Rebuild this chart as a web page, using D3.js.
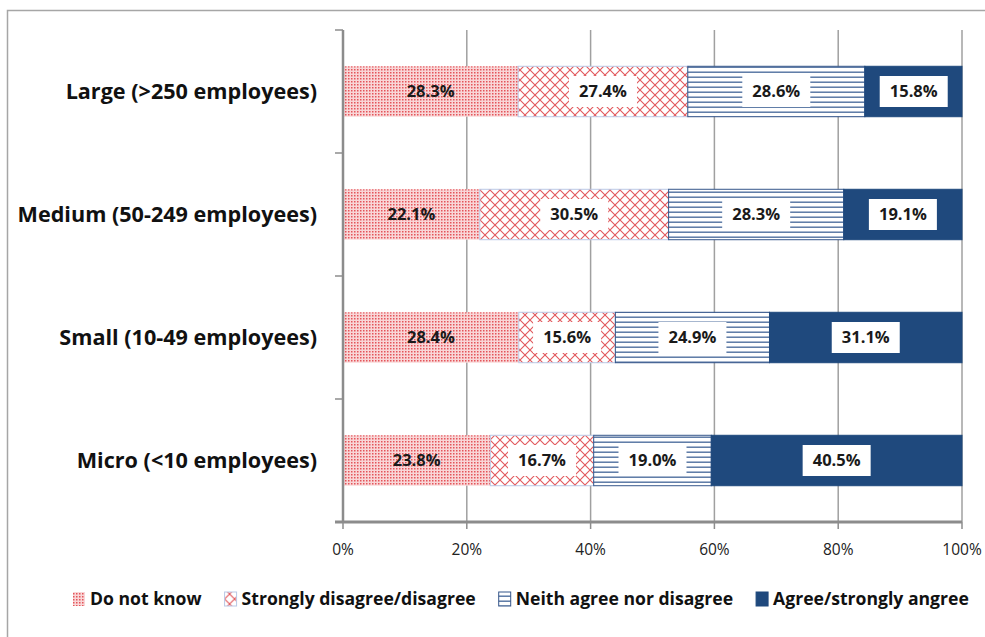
<!DOCTYPE html>
<html>
<head>
<meta charset="utf-8">
<script src="https://cdn.jsdelivr.net/npm/d3@7"></script>
<style>
  body { margin: 0; background: #fff; }
  svg { display: block; font-family: "Open Sans", "Noto Sans", sans-serif; }
</style>
</head>
<body>
<svg id="chart"></svg>
<script>
// categories top to bottom, as in the picture
var categories = ["Large (>250 employees)", "Medium (50-249 employees)", "Small (10-49 employees)", "Micro (<10 employees)"];
var seriesNames = ["Do not know", "Strongly disagree/disagree", "Neith agree nor disagree", "Agree/strongly angree"];
var doNotKnow = [28.3, 22.1, 28.4, 23.8];
var disagree = [27.4, 30.5, 15.6, 16.7];
var neither = [28.6, 28.3, 24.9, 19.0];
var agree = [15.8, 19.1, 31.1, 40.5];
var tickValues = [0, 20, 40, 60, 80, 100];

var width = 985, height = 637;
var svg = d3.select("#chart").attr("width", width).attr("height", height);

// patterns for the fills
var defs = svg.append("defs");
var dots = defs.append("pattern").attr("id", "p-dots")
    .attr("patternUnits", "userSpaceOnUse").attr("width", 3).attr("height", 3);
dots.append("rect").attr("width", 3).attr("height", 3).attr("fill", "#f9d6d7");
dots.append("rect").attr("width", 1.5).attr("height", 1.5).attr("fill", "#e4545a");

var cross = defs.append("pattern").attr("id", "p-cross")
    .attr("patternUnits", "userSpaceOnUse").attr("width", 10).attr("height", 10);
cross.append("rect").attr("width", 10).attr("height", 10).attr("fill", "#fff");
cross.append("path").attr("d", "M0,0L10,10M10,0L0,10")
    .attr("stroke", "#e2585c").attr("stroke-width", 1.1);

var hlines = defs.append("pattern").attr("id", "p-lines")
    .attr("patternUnits", "userSpaceOnUse").attr("width", 6).attr("height", 5);
hlines.append("rect").attr("width", 6).attr("height", 5).attr("fill", "#fff");
hlines.append("rect").attr("y", 1.5).attr("width", 6).attr("height", 1.4).attr("fill", "#50709f");

var fills = ["url(#p-dots)", "url(#p-cross)", "url(#p-lines)", "#1f497d"];
var strokes = ["none", "#b9c8e6", "#35568a", "#1f497d"];

var plot = { left: 343, right: 962, top: 30, bottom: 522 };

var x = d3.scaleLinear().domain([0, 100]).range([plot.left, plot.right]);
var y = d3.scaleBand().domain(categories).range([plot.top, plot.bottom]).paddingInner(0.59).paddingOuter(0.295);

// outer frame
svg.append("rect").attr("x", 7.5).attr("y", 10.5).attr("width", 1000).attr("height", 700)
    .attr("fill", "none").attr("stroke", "#a6a6a6").attr("stroke-width", 1.5);

// gridlines
svg.append("g").selectAll("line").data(tickValues.slice(1)).join("line")
    .attr("x1", d => x(d)).attr("x2", d => x(d))
    .attr("y1", plot.top).attr("y2", plot.bottom)
    .attr("stroke", "#a0a0a0").attr("stroke-width", 1.5);

// stack the series
var rows = categories.map((c, i) => ({
  cat: c,
  values: [doNotKnow[i], disagree[i], neither[i], agree[i]]
}));
var keys = [0, 1, 2, 3];
var stack = d3.stack().keys(keys).value((d, k) => d.values[k]);
var layers = stack(rows);

var bars = svg.append("g");
layers.forEach((layer, k) => {
  bars.append("g").selectAll("rect").data(layer).join("rect")
      .attr("x", d => x(d[0]))
      .attr("width", d => Math.min(x(d[1]), plot.right) - x(d[0]))
      .attr("y", d => y(d.data.cat))
      .attr("height", y.bandwidth())
      .attr("fill", fills[k])
      .attr("stroke", strokes[k]).attr("stroke-width", 1);
});

// data labels
var labels = svg.append("g").attr("font-weight", 700).attr("font-size", 16.5);
layers.forEach((layer, k) => {
  var g = labels.append("g").selectAll("g").data(layer).join("g")
      .attr("transform", d => "translate(" + x((d[0] + d[1]) / 2) + "," + (y(d.data.cat) + y.bandwidth() / 2) + ")");
  if (k > 0) {
    g.append("rect").attr("x", -34).attr("y", -15.5).attr("width", 68).attr("height", 31).attr("fill", "#fff");
  }
  g.append("text").attr("text-anchor", "middle").attr("dy", "0.36em")
      .attr("fill", "#1a1a1a")
      .text(d => d.data.values[k].toFixed(1) + "%");
});

// y axis
var yAxis = svg.append("g").attr("transform", "translate(" + plot.left + ",0)");
yAxis.append("line").attr("y1", plot.top).attr("y2", plot.bottom)
    .attr("stroke", "#8c8c8c").attr("stroke-width", 2.5);
var bandEdges = categories.map(c => y(c) - y.step() * y.paddingInner() / 2).concat([plot.bottom]);
yAxis.selectAll(".tk").data(bandEdges).join("line")
    .attr("x1", -8).attr("x2", 0).attr("y1", d => d).attr("y2", d => d)
    .attr("stroke", "#8c8c8c").attr("stroke-width", 1.5);
yAxis.selectAll("text").data(categories).join("text")
    .attr("x", -26).attr("y", d => y(d) + y.bandwidth() / 2)
    .attr("dy", "0.36em").attr("text-anchor", "end")
    .attr("font-size", 21.6).attr("font-weight", 700).attr("fill", "#111")
    .text(d => d);

// x axis
var xAxis = svg.append("g").attr("transform", "translate(0," + plot.bottom + ")");
xAxis.append("line").attr("x1", plot.left - 8).attr("x2", plot.right)
    .attr("stroke", "#8c8c8c").attr("stroke-width", 3);
xAxis.selectAll(".tk").data(tickValues).join("line")
    .attr("x1", d => x(d)).attr("x2", d => x(d)).attr("y1", 0).attr("y2", 7)
    .attr("stroke", "#8c8c8c").attr("stroke-width", 1.5);
xAxis.selectAll("text").data(tickValues).join("text")
    .attr("x", d => x(d)).attr("y", 33).attr("text-anchor", "middle")
    .attr("font-size", 15.5).attr("fill", "#222")
    .text(d => d + "%");

// legend
var legend = svg.append("g").attr("transform", "translate(73,599)");
var cursor = 0;
seriesNames.forEach((name, k) => {
  var item = legend.append("g").attr("transform", "translate(" + cursor + ",0)");
  item.append("rect").attr("x", 0).attr("y", -7).attr("width", 12).attr("height", 14)
      .attr("fill", fills[k]).attr("stroke", k === 0 ? "none" : strokes[k]).attr("stroke-width", 1);
  var t = item.append("text").attr("x", 17).attr("dy", "0.36em")
      .attr("font-size", 17.6).attr("font-weight", 700).attr("fill", "#111")
      .text(name);
  cursor += 17 + t.node().getComputedTextLength() + 23;
});
</script>
</body>
</html>
